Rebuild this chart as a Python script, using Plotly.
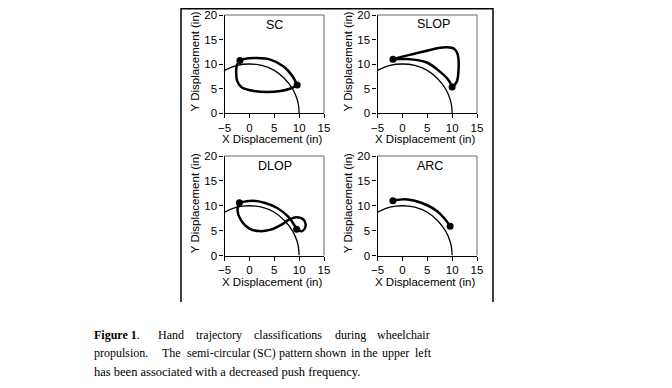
import plotly.graph_objects as go

W, H = 672, 388
OFF = 8  # page body margin of the browser

# ---------------- data ----------------
x_ticks = [-5, 0, 5, 10, 15]
y_ticks = [0, 5, 10, 15, 20]

# handrim (thin reference arc)
rim_x = [-5.0, -2.5, 0.0, 2.5, 5.0, 7.0, 8.7, 9.6, 9.9, 10.0]
rim_y = [8.7, 9.7, 10.0, 9.7, 8.7, 7.1, 4.9, 2.8, 1.4, 0.0]

patterns = ["SC", "SLOP", "DLOP", "ARC"]

# push phase (thick arc, start dot -> end dot) and recovery path
sc_push_x = [-1.9, -1.2, 1.5, 4.2, 6.9, 8.6, 9.6]
sc_push_y = [10.7, 11.0, 11.2, 10.9, 9.5, 7.6, 5.7]
sc_rec_x = [9.6, 8.3, 6.25, 3.5, 0.9, -1.5, -2.4, -2.65, -2.5, -1.9]
sc_rec_y = [5.7, 5.0, 4.5, 4.3, 4.5, 5.2, 6.4, 8.2, 9.8, 10.7]

slop_push_x = [-1.9, 0.9, 4.9, 7.6, 9.3, 10.0]
slop_push_y = [10.95, 11.0, 10.3, 8.4, 6.7, 5.3]
slop_rec_x = [10.0, 10.9, 11.3, 11.1, 10.4, 9.0, 7.0, 4.5, 2.0, 0.0, -1.9]
slop_rec_y = [5.3, 6.3, 9.0, 12.0, 13.1, 13.4, 13.2, 12.6, 12.0, 11.5, 10.95]

dlop_push_x = [-2.0, 0.5, 3.0, 5.5, 7.8, 9.5]
dlop_push_y = [10.6, 11.0, 10.6, 9.6, 7.8, 5.3]
dlop_rec_x = [9.5, 10.6, 11.3, 10.9, 9.4, 8.0, 6.3, 4.3, 2.0, 0.0, -1.7, -2.4, -2.0]
dlop_rec_y = [5.3, 4.9, 5.9, 7.2, 7.7, 7.2, 6.1, 5.2, 4.9, 5.4, 7.1, 9.1, 10.6]

arc_push_x = [-1.9, 0.5, 2.5, 5.0, 7.0, 8.5, 9.6]
arc_push_y = [11.0, 11.3, 11.0, 10.1, 8.9, 7.4, 5.9]
arc_rec_x = []
arc_rec_y = []

push_x = [sc_push_x, slop_push_x, dlop_push_x, arc_push_x]
push_y = [sc_push_y, slop_push_y, dlop_push_y, arc_push_y]
rec_x = [sc_rec_x, slop_rec_x, dlop_rec_x, arc_rec_x]
rec_y = [sc_rec_y, slop_rec_y, dlop_rec_y, arc_rec_y]

x_title = "X Displacement (in)"
y_title = "Y Displacement (in)"

caption_line1 = ["<b>Figure 1</b>.", "Hand", "trajectory", "classifications", "during", "wheelchair"]
caption_line2 = ["propulsion.", "The", "semi-circular", "(SC)", "pattern", "shown", "in", "the", "upper", "left"]
caption_line3 = "has been associated with a decreased push frequency."

# ---------------- layout geometry (page pixels) ----------------
col_px = [(224.5, 324.0), (377.5, 477.0)]
row_px = [(15.0, 113.0), (156.0, 255.5)]  # (top, bottom)
cells = [(0, 0), (0, 1), (1, 0), (1, 1)]
title_px = [(274, 25), (433, 24), (275, 166), (430, 166)]
line1_x = [92, 156, 193.5, 252, 332.5, 375]
line2_x = [92, 159.5, 185, 251, 276.5, 313, 348.5, 361, 380, 413]
line_y = [335, 353, 371.5]


def px2x(p):
    return (p - OFF) / W


def py2y(p):
    return 1 - (p - OFF) / H


fig = go.Figure()
layout_axes = {}
annotations = []
shapes = []

for i, name in enumerate(patterns):
    r, c = cells[i]
    k = "" if i == 0 else str(i + 1)
    xa, ya = "x" + k, "y" + k
    fig.add_trace(go.Scatter(x=rim_x, y=rim_y, mode="lines", xaxis=xa, yaxis=ya,
                             line=dict(color="black", width=1.3, shape="spline", smoothing=1),
                             showlegend=False, hoverinfo="skip"))
    fig.add_trace(go.Scatter(x=push_x[i], y=push_y[i], mode="lines", xaxis=xa, yaxis=ya,
                             line=dict(color="black", width=2.5, shape="spline", smoothing=1),
                             showlegend=False))
    if rec_x[i]:
        fig.add_trace(go.Scatter(x=rec_x[i], y=rec_y[i], mode="lines", xaxis=xa, yaxis=ya,
                                 line=dict(color="black", width=2.5, shape="spline", smoothing=1),
                                 showlegend=False))
    fig.add_trace(go.Scatter(x=[push_x[i][0], push_x[i][-1]], y=[push_y[i][0], push_y[i][-1]],
                             mode="markers", xaxis=xa, yaxis=ya,
                             marker=dict(color="black", size=7), showlegend=False))

    x0p, x1p = col_px[c]
    topp, botp = row_px[r]
    axis_common = dict(showline=True, linecolor="black", linewidth=1.3, ticks="outside",
                       ticklen=4, tickcolor="black", tickwidth=1, showgrid=False,
                       zeroline=False, automargin=False,
                       tickfont=dict(family="Arial", size=11.5, color="black"),
                       fixedrange=True)
    layout_axes["xaxis" + k] = dict(axis_common, domain=[px2x(x0p), px2x(x1p)], range=[-5, 15],
                                    tickvals=x_ticks, anchor=ya)
    layout_axes["yaxis" + k] = dict(axis_common, domain=[py2y(botp), py2y(topp)], range=[0, 20],
                                    tickvals=y_ticks, anchor=xa)
    shapes.append(dict(type="path", xref=xa + " domain", yref=ya + " domain",
                       path="M 0 1 L 1 1 L 1 0", line=dict(color="#666", width=1)))
    centred = dict(xref="paper", yref="paper", showarrow=False,
                   xanchor="center", yanchor="middle")
    tx, ty = title_px[i]
    annotations.append(dict(centred, text=name, x=px2x(tx), y=py2y(ty),
                            font=dict(family="Arial", size=12.5, color="black")))
    annotations.append(dict(centred, text=x_title, x=px2x((x0p + x1p) / 2 - 2),
                            y=py2y(botp + 26),
                            font=dict(family="Arial", size=11.5, color="black")))
    annotations.append(dict(centred, text=y_title, x=px2x(x0p - 29.5),
                            y=py2y((topp + botp) / 2 - 2.5), textangle=-90,
                            font=dict(family="Arial", size=11.5, color="black")))

# figure border (left, top, right)
shapes.append(dict(type="path", xref="paper", yref="paper",
                   path=f"M {px2x(181)} {py2y(302)} L {px2x(181)} {py2y(8.8)} "
                        f"L {px2x(493)} {py2y(8.8)} L {px2x(493)} {py2y(302)}",
                   line=dict(color="black", width=1.5)))

cap_font = dict(family="Liberation Serif", size=12, color="black")
for words, xs, yy in ((caption_line1, line1_x, line_y[0]), (caption_line2, line2_x, line_y[1])):
    for w, xx in zip(words, xs):
        annotations.append(dict(text=w, x=px2x(xx), y=py2y(yy), xref="paper", yref="paper",
                                xanchor="left", yanchor="middle", showarrow=False, font=cap_font))
annotations.append(dict(text=caption_line3, x=px2x(92), y=py2y(line_y[2]), xref="paper",
                        yref="paper", xanchor="left", yanchor="middle", showarrow=False,
                        font=dict(cap_font, size=12.5)))

fig.update_layout(width=W, height=H, margin=dict(l=0, r=0, t=0, b=0, autoexpand=False),
                  paper_bgcolor="white", plot_bgcolor="white",
                  annotations=annotations, shapes=shapes, **layout_axes)

fig.write_html("out.html")
